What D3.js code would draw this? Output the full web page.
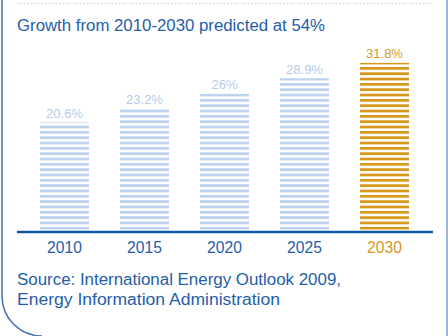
<!DOCTYPE html>
<html>
<head>
<meta charset="utf-8">
<script src="https://cdn.jsdelivr.net/npm/d3@7"></script>
<style>
  html, body { margin: 0; padding: 0; background: #ffffff; }
  svg { display: block; font-family: "Liberation Sans", Arial, sans-serif; }
</style>
</head>
<body>
<svg id="chart" width="448" height="336"></svg>
<script>
// ---- data ----
const years = ["2010", "2015", "2020", "2025", "2030"];
const values = [20.6, 23.2, 26, 28.9, 31.8];
const valueLabels = ["20.6%", "23.2%", "26%", "28.9%", "31.8%"];
const highlight = ["2030"];
const titleText = "Growth from 2010-2030 predicted at 54%";
const sourceLines = ["Source: International Energy Outlook 2009,", "Energy Information Administration"];

// ---- layout ----
const W = 448, H = 336;
const baseY = 232;
const svg = d3.select("#chart");

const x = d3.scaleBand().domain(years).range([20, 429]).paddingInner(0.3875).paddingOuter(0.25);
const y = d3.scaleLinear().domain([0, 32]).range([baseY, baseY - 170.2]);

const lightBlue = "#bcd2ee";
const labelBlue = "#b5cbe9";
const gold = "#d6991e";
const darkBlue = "#1f5ea8";

// stripe patterns aligned to baseline
const pitch = 5.33, thick = 2.8;
const defs = svg.append("defs");
function mkPattern(id, color) {
  const p = defs.append("pattern").attr("id", id)
    .attr("patternUnits", "userSpaceOnUse")
    .attr("width", 10).attr("height", pitch)
    .attr("patternTransform", `translate(0, ${baseY - 2.3 - thick})`);
  p.append("rect").attr("x", 0).attr("y", 0).attr("width", 10).attr("height", thick).attr("fill", color);
}
mkPattern("stripeBlue", lightBlue);
mkPattern("stripeGold", gold);

// frame
svg.append("path")
  .attr("d", "M2,0 L2,296 A40,40 0 0 0 42,336")
  .attr("fill", "none").attr("stroke", "#3c70b2").attr("stroke-width", 1.5);
svg.append("line").attr("x1", 447).attr("x2", 447).attr("y1", 0).attr("y2", H)
  .attr("stroke", "#7aa0d2").attr("stroke-width", 1.5);
svg.append("line").attr("x1", 17).attr("x2", 433).attr("y1", 3.5).attr("y2", 3.5)
  .attr("stroke", "#bcd0ec").attr("stroke-width", 1.2).attr("stroke-dasharray", "1.5,2");

// title
svg.append("text").attr("x", 17).attr("y", 31)
  .attr("fill", darkBlue).attr("font-size", 16)
  .attr("textLength", 308).attr("lengthAdjust", "spacingAndGlyphs")
  .text(titleText);

// bars
const data = years.map((yr, i) => ({ yr, v: values[i], label: valueLabels[i], hi: highlight.includes(yr) }));
svg.append("g").selectAll("rect").data(data).join("rect")
  .attr("x", d => x(d.yr))
  .attr("y", d => y(d.v))
  .attr("width", x.bandwidth())
  .attr("height", d => baseY - 2.3 - y(d.v))
  .attr("fill", d => d.hi ? "url(#stripeGold)" : "url(#stripeBlue)");

// value labels
svg.append("g").selectAll("text").data(data).join("text")
  .attr("x", d => x(d.yr) + x.bandwidth() / 2)
  .attr("y", d => y(d.v) - 4.5)
  .attr("text-anchor", "middle")
  .attr("font-size", 13)
  .attr("fill", d => d.hi ? gold : labelBlue)
  .text(d => d.label);

// baseline axis
const axis = svg.append("g").attr("transform", `translate(0,${baseY})`)
  .call(d3.axisBottom(x).tickSize(0).tickPadding(0));
axis.select(".domain").remove();
axis.append("line").attr("x1", 17).attr("x2", 433).attr("y1", 0).attr("y2", 0)
  .attr("stroke", "#0d58a0").attr("stroke-width", 2.6);
axis.selectAll(".tick text")
  .attr("y", 21.3).attr("dy", 0)
  .attr("font-size", 15.7)
  .attr("font-family", "Liberation Sans, Arial, sans-serif")
  .attr("fill", d => highlight.includes(d) ? gold : darkBlue);

// source
const sourceWidths = [324, 263];
svg.append("g").selectAll("text").data(sourceLines).join("text")
  .attr("x", 17).attr("y", (d, i) => 285 + i * 19.5)
  .attr("font-size", 16).attr("fill", darkBlue)
  .attr("textLength", (d, i) => sourceWidths[i]).attr("lengthAdjust", "spacingAndGlyphs")
  .text(d => d);
</script>
</body>
</html>
